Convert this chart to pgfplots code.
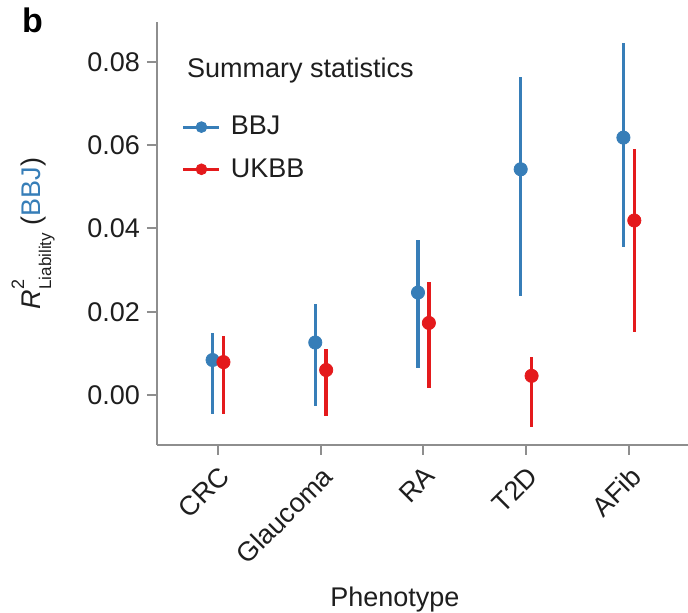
\documentclass[border=0pt]{standalone}
\usepackage{pgfplots}
\pgfplotsset{compat=1.18}
\usepackage{pgfplotstable}
\usepackage{fontspec}
\setmainfont{Liberation Sans}
\definecolor{bbj}{HTML}{377EB8}
\definecolor{ukbb}{HTML}{E41A1C}
\definecolor{spine}{HTML}{8E8E8E}
\definecolor{txt}{HTML}{1E1E1E}
\pgfplotstableread{
x y ep em
-0.053 0.0084 0.0064 0.0130
0.947 0.0126 0.0092 0.0152
1.947 0.0246 0.0126 0.0181
2.947 0.0542 0.0221 0.0304
3.947 0.0618 0.0228 0.0262
}\bbjtab
\pgfplotstableread{
x y ep em
0.053 0.0079 0.0063 0.0125
1.053 0.0060 0.0051 0.0110
2.053 0.0173 0.0098 0.0155
3.053 0.0046 0.0046 0.0122
4.053 0.0419 0.0172 0.0267
}\ukbbtab
\newcommand{\fs}{\fontsize{13.5}{16}\selectfont}
\begin{document}
\begin{tikzpicture}
\path[use as bounding box] (-78.5pt,-84pt) rectangle (265.5pt,222.5pt);
\begin{axis}[
  scale only axis, width=265.5pt, height=211.5pt,
  xmin=-0.594, xmax=4.576, ymin=-0.0120, ymax=0.08956,
  clip=false,
  axis x line*=bottom, axis y line*=left,
  axis line style={spine, line width=1pt, -},
  tick style={spine, line width=1pt},
  tick align=outside, major tick length=5pt,
  xtick={0,1,2,3,4},
  xticklabels={CRC,Glaucoma,RA,T2D,AFib},
  ytick={0,0.02,0.04,0.06,0.08},
  scaled y ticks=false,
  /pgf/number format/assume math mode=true,
  yticklabel style={/pgf/number format/fixed, /pgf/number format/fixed zerofill, /pgf/number format/precision=2, font=\fs, text=txt},
  xticklabel style={rotate=45, anchor=north east, font=\fs, text=txt},
  xlabel={Phenotype},
  xlabel style={at={(axis description cs:0.448,-0.365)}, anchor=center, font=\fs, text=txt},
  ylabel={\textit{R}\makebox[0pt][l]{\raisebox{0.62em}{\fontsize{9}{10}\selectfont 2}}\raisebox{-0.38em}{\fontsize{8.5}{10}\selectfont Liability}\ (\textcolor{bbj}{BBJ})},
  ylabel style={at={(axis description cs:-0.2335,0.5)}, anchor=center, font=\fs, text=txt},
  legend style={draw=none, fill=none, inner sep=0pt, outer sep=0pt,
    at={(axis description cs:0.047,0.777)}, anchor=north west,
    row sep=10.3pt, column sep=5pt, font=\fs, text=txt,
    nodes={inner sep=0pt}},
  legend cell align=left,
]
\addplot[only marks, mark=*, mark size=3.3pt, color=bbj,
  legend image code/.code={\draw[bbj, line width=1.5pt] (0pt,0pt) -- (18pt,0pt); \fill[bbj] (9pt,0pt) circle (2.7pt);},
  error bars/.cd, y dir=both, y explicit, error mark=none,
  error bar style={line width=1.75pt, bbj}]
  table[x=x, y=y, y error plus=ep, y error minus=em] {\bbjtab};
\addlegendentry{BBJ}
\addplot[only marks, mark=*, mark size=3.3pt, color=ukbb,
  legend image code/.code={\draw[ukbb, line width=1.5pt] (0pt,0pt) -- (18pt,0pt); \fill[ukbb] (9pt,0pt) circle (2.7pt);},
  error bars/.cd, y dir=both, y explicit, error mark=none,
  error bar style={line width=1.75pt, ukbb}]
  table[x=x, y=y, y error plus=ep, y error minus=em] {\ukbbtab};
\addlegendentry{UKBB}
\node[anchor=base west, font=\fs, text=txt] at (axis description cs:0.0433,0.8683) {Summary statistics};
\node[anchor=base west, font=\fontsize{17}{20}\selectfont\bfseries] at (axis description cs:-0.2675,0.974) {b};
\end{axis}
\end{tikzpicture}
\end{document}
